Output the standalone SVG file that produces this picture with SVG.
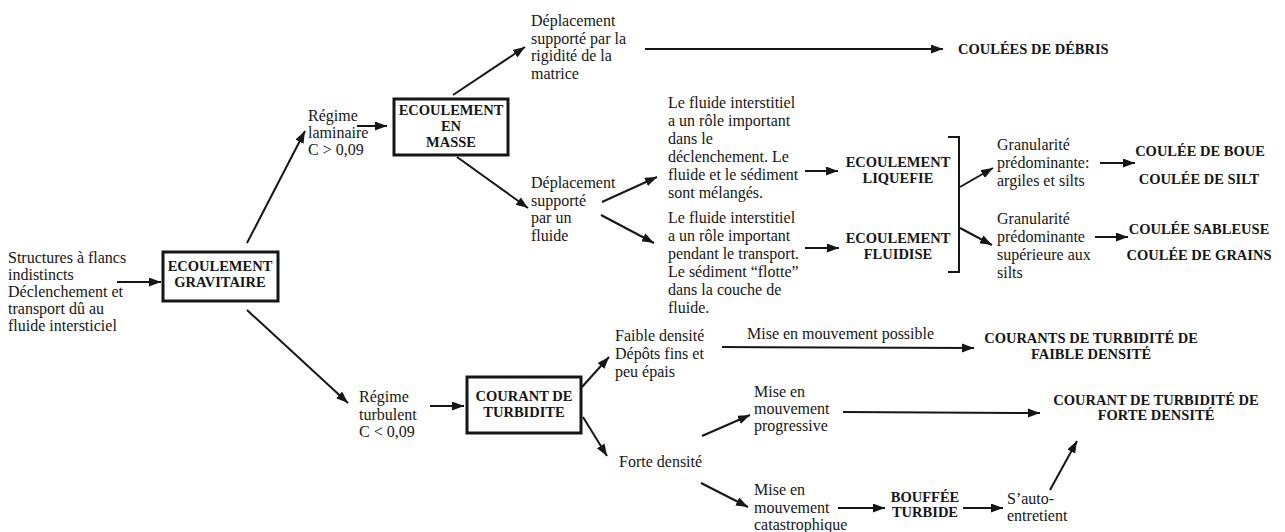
<svg xmlns="http://www.w3.org/2000/svg" width="1285" height="532" viewBox="0 0 1285 532">
<defs>
<style>
text{font-family:"Liberation Serif","Times New Roman",serif;fill:#161616}
.t{font-size:16px}
.b{font-size:14.5px;font-weight:bold}
.c{text-anchor:middle}
.box{fill:none;stroke:#161616;stroke-width:3}
.ln{fill:none;stroke:#161616;stroke-width:2;marker-end:url(#ah)}
.br{fill:none;stroke:#161616;stroke-width:2}
</style>
<marker id="ah" markerUnits="userSpaceOnUse" markerWidth="13" markerHeight="10" refX="12" refY="4.5" orient="auto">
<path d="M0,0 L12,4.5 L0,9 z" fill="#161616"/>
</marker>
</defs>
<rect width="1285" height="532" fill="#ffffff"/>

<g id="connectors">
<line class="ln" x1="117" y1="282" x2="161" y2="282"/>
<line class="ln" x1="247" y1="243" x2="305" y2="131"/>
<line class="ln" x1="357" y1="126" x2="387" y2="126"/>
<line class="ln" x1="453" y1="95" x2="525" y2="47"/>
<line class="ln" x1="457" y1="157" x2="528" y2="208"/>
<line class="ln" x1="645" y1="49" x2="943" y2="49"/>
<line class="ln" x1="602" y1="202" x2="657" y2="177"/>
<line class="ln" x1="601" y1="215" x2="654" y2="243"/>
<line class="ln" x1="805" y1="171" x2="838" y2="171"/>
<line class="ln" x1="805" y1="248" x2="839" y2="248"/>
<line class="ln" x1="960" y1="187" x2="993" y2="168"/>
<line class="ln" x1="960" y1="228" x2="992" y2="245"/>
<line class="ln" x1="1100" y1="163" x2="1135" y2="163"/>
<line class="ln" x1="1095" y1="237" x2="1128" y2="237"/>
<line class="ln" x1="247" y1="310" x2="348" y2="403"/>
<line class="ln" x1="430" y1="406" x2="464" y2="406"/>
<line class="ln" x1="582" y1="387" x2="609" y2="357"/>
<line class="ln" x1="583" y1="417" x2="607" y2="456"/>
<line class="ln" x1="722" y1="347" x2="974" y2="348"/>
<line class="ln" x1="702" y1="436" x2="750" y2="415"/>
<line class="ln" x1="843" y1="412" x2="1040" y2="413"/>
<line class="ln" x1="701" y1="483" x2="748" y2="507"/>
<line class="ln" x1="838" y1="508" x2="885" y2="508"/>
<line class="ln" x1="963" y1="508" x2="1003" y2="508"/>
<line class="ln" x1="1050" y1="490" x2="1077" y2="441"/>
<path class="br" d="M948,137 H959 V272 H948"/>
</g>

<g id="structures">
<text class="t" x="8" y="263">Structures à flancs</text>
<text class="t" x="8" y="280">indistincts</text>
<text class="t" x="8" y="297">Déclenchement et</text>
<text class="t" x="8" y="314">transport dû au</text>
<text class="t" x="8" y="331">fluide intersticiel</text>
</g>

<g id="ecoulement-gravitaire">
<rect class="box" x="163" y="252" width="115" height="49"/>
<text class="b c" x="220" y="271">ECOULEMENT</text>
<text class="b c" x="220" y="287">GRAVITAIRE</text>
</g>

<g id="regime-laminaire">
<text class="t" x="308" y="121">Régime</text>
<text class="t" x="308" y="138">laminaire</text>
<text class="t" x="308" y="155">C &gt; 0,09</text>
</g>

<g id="ecoulement-en-masse">
<rect class="box" x="394" y="99" width="114" height="56"/>
<text class="b c" x="451" y="115">ECOULEMENT</text>
<text class="b c" x="451" y="131">EN</text>
<text class="b c" x="451" y="147">MASSE</text>
</g>

<g id="deplacement-rigidite">
<text class="t" x="531" y="26">Déplacement</text>
<text class="t" x="531" y="44">supporté par la</text>
<text class="t" x="531" y="61">rigidité de la</text>
<text class="t" x="531" y="79">matrice</text>
</g>

<g id="coulees-debris">
<text class="b" x="958" y="54">COULÉES DE DÉBRIS</text>
</g>

<g id="deplacement-fluide">
<text class="t" x="531" y="188">Déplacement</text>
<text class="t" x="531" y="206">supporté</text>
<text class="t" x="531" y="223">par un</text>
<text class="t" x="531" y="241">fluide</text>
</g>

<g id="fluide-declenchement">
<text class="t" x="668" y="108">Le fluide interstitiel</text>
<text class="t" x="668" y="126">a un rôle important</text>
<text class="t" x="668" y="144">dans le</text>
<text class="t" x="668" y="162">déclenchement. Le</text>
<text class="t" x="668" y="180">fluide et le sédiment</text>
<text class="t" x="668" y="198">sont mélangés.</text>
</g>

<g id="fluide-transport">
<text class="t" x="668" y="223">Le fluide interstitiel</text>
<text class="t" x="668" y="241">a un rôle important</text>
<text class="t" x="668" y="259">pendant le transport.</text>
<text class="t" x="668" y="277">Le sédiment “flotte”</text>
<text class="t" x="668" y="295">dans la couche de</text>
<text class="t" x="668" y="313">fluide.</text>
</g>

<g id="ecoulement-liquefie">
<text class="b c" x="898" y="167">ECOULEMENT</text>
<text class="b c" x="898" y="183">LIQUEFIE</text>
</g>

<g id="ecoulement-fluidise">
<text class="b c" x="898" y="243">ECOULEMENT</text>
<text class="b c" x="898" y="259">FLUIDISE</text>
</g>

<g id="granularite-argiles">
<text class="t" x="997" y="150">Granularité</text>
<text class="t" x="997" y="168">prédominante:</text>
<text class="t" x="997" y="186">argiles et silts</text>
</g>

<g id="granularite-superieure">
<text class="t" x="997" y="224">Granularité</text>
<text class="t" x="997" y="242">prédominante</text>
<text class="t" x="997" y="260">supérieure aux</text>
<text class="t" x="997" y="278">silts</text>
</g>

<g id="coulee-boue">
<text class="b c" x="1200" y="156">COULÉE DE BOUE</text>
<text class="b c" x="1199" y="184">COULÉE DE SILT</text>
</g>

<g id="coulee-sableuse">
<text class="b c" x="1199" y="234">COULÉE SABLEUSE</text>
<text class="b c" x="1199" y="260">COULÉE DE GRAINS</text>
</g>

<g id="regime-turbulent">
<text class="t" x="359" y="402">Régime</text>
<text class="t" x="359" y="420">turbulent</text>
<text class="t" x="359" y="437">C &lt; 0,09</text>
</g>

<g id="courant-turbidite">
<rect class="box" x="467" y="377" width="114" height="56"/>
<text class="b c" x="524" y="401">COURANT DE</text>
<text class="b c" x="524" y="417">TURBIDITE</text>
</g>

<g id="faible-densite">
<text class="t" x="615" y="341">Faible densité</text>
<text class="t" x="615" y="359">Dépôts fins et</text>
<text class="t" x="615" y="377">peu épais</text>
</g>

<g id="mise-possible">
<text class="t" x="747" y="339">Mise en mouvement possible</text>
</g>

<g id="courants-faible">
<text class="b c" x="1091" y="343">COURANTS DE TURBIDITÉ DE</text>
<text class="b c" x="1091" y="359">FAIBLE DENSITÉ</text>
</g>

<g id="forte-densite">
<text class="t" x="619" y="467">Forte densité</text>
</g>

<g id="mise-progressive">
<text class="t" x="754" y="397">Mise en</text>
<text class="t" x="754" y="414">mouvement</text>
<text class="t" x="754" y="431">progressive</text>
</g>

<g id="courant-forte">
<text class="b c" x="1156" y="405">COURANT DE TURBIDITÉ DE</text>
<text class="b c" x="1156" y="420">FORTE DENSITÉ</text>
</g>

<g id="mise-catastrophique">
<text class="t" x="754" y="495">Mise en</text>
<text class="t" x="754" y="513">mouvement</text>
<text class="t" x="754" y="530">catastrophique</text>
</g>

<g id="bouffee-turbide">
<text class="b c" x="925" y="502">BOUFFÉE</text>
<text class="b c" x="925" y="517">TURBIDE</text>
</g>

<g id="auto-entretient">
<text class="t" x="1007" y="504">S’auto-</text>
<text class="t" x="1007" y="521">entretient</text>
</g>
</svg>
